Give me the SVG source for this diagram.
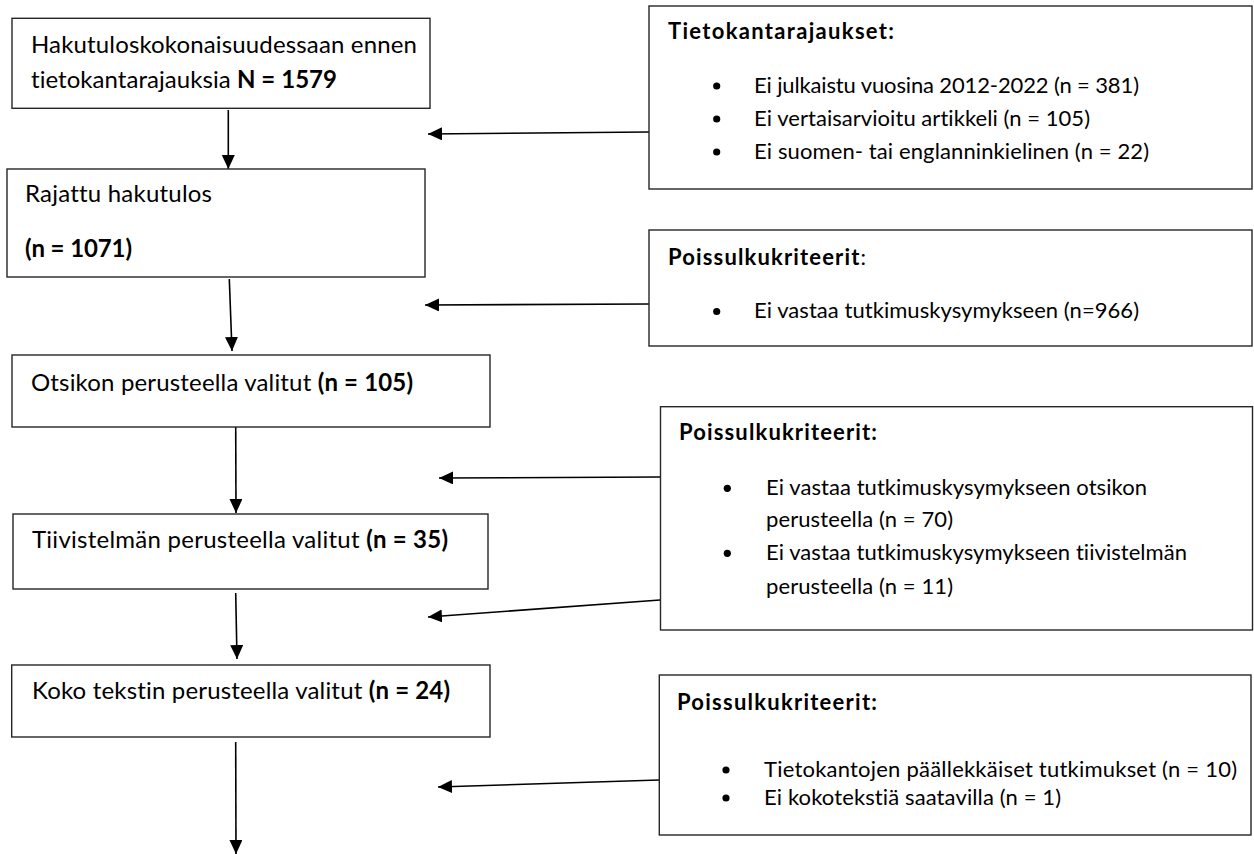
<svg xmlns="http://www.w3.org/2000/svg" width="1254" height="854" viewBox="0 0 1254 854">
<defs>
<style>
.box{fill:#fff;stroke:#262626;stroke-width:1.4}
.t{font-family:Lato,"Liberation Sans",sans-serif;fill:#000;font-variant-ligatures:none;font-feature-settings:"liga" 0,"dlig" 0}
.l{font-size:24px}
.r{font-size:22px}
.b{font-weight:700}
.c{stroke:#000;stroke-width:1.6;fill:none;marker-end:url(#ah)}
.dot{fill:#000}
</style>
<marker id="ah" markerUnits="userSpaceOnUse" markerWidth="15" markerHeight="14" refX="14" refY="6.5" orient="auto">
<path d="M0,0 L14,6.5 L0,13 z" fill="#000"/>
</marker>
</defs>
<rect width="1254" height="854" fill="#fff"/>

<g id="connectors">
<line class="c" x1="228.3" y1="110" x2="228.3" y2="169"/>
<line class="c" x1="229.3" y1="279" x2="232" y2="351"/>
<line class="c" x1="235.7" y1="422" x2="236" y2="513"/>
<line class="c" x1="235.7" y1="593" x2="237" y2="659"/>
<line class="c" x1="235.7" y1="742" x2="236" y2="854"/>
<line class="c" x1="649" y1="132" x2="428" y2="134"/>
<line class="c" x1="649" y1="304" x2="425" y2="305"/>
<line class="c" x1="660" y1="477" x2="439" y2="478"/>
<line class="c" x1="660" y1="600" x2="428" y2="617"/>
<line class="c" x1="659" y1="780" x2="438" y2="787"/>
</g>

<g id="n1">
<rect class="box" x="12" y="18.3" width="418" height="90"/>
<text class="t l" x="31" y="53" textLength="386">Hakutuloskokonaisuudessaan ennen</text>
<text class="t l" x="31" y="88" textLength="306">tietokantarajauksia <tspan class="b">N = 1579</tspan></text>
</g>

<g id="n2">
<rect class="box" x="7" y="169" width="418" height="108"/>
<text class="t l" x="25" y="202" textLength="187">Rajattu hakutulos</text>
<text class="t l b" x="25" y="257" textLength="107">(n = 1071)</text>
</g>

<g id="n3">
<rect class="box" x="12" y="355" width="478" height="72"/>
<text class="t l" x="31" y="391" textLength="382">Otsikon perusteella valitut <tspan class="b">(n = 105)</tspan></text>
</g>

<g id="n4">
<rect class="box" x="13" y="514" width="475" height="75"/>
<text class="t l" x="32" y="548" textLength="416">Tiivistelmän perusteella valitut <tspan class="b">(n = 35)</tspan></text>
</g>

<g id="n5">
<rect class="box" x="11.7" y="665" width="478.3" height="72"/>
<text class="t l" x="32" y="699" textLength="418">Koko tekstin perusteella valitut <tspan class="b">(n = 24)</tspan></text>
</g>

<g id="r1">
<rect class="box" x="649" y="6" width="603" height="183"/>
<text class="t r b" x="668" y="39" textLength="226">Tietokantarajaukset:</text>
<circle class="dot" cx="716.7" cy="86" r="3.6"/>
<circle class="dot" cx="716.7" cy="119" r="3.6"/>
<circle class="dot" cx="716.7" cy="152" r="3.6"/>
<text class="t r" x="754" y="93" textLength="385">Ei julkaistu vuosina 2012-2022 (n = 381)</text>
<text class="t r" x="754" y="126" textLength="336">Ei vertaisarvioitu artikkeli (n = 105)</text>
<text class="t r" x="754" y="158.5" textLength="395">Ei suomen- tai englanninkielinen (n = 22)</text>
</g>

<g id="r2">
<rect class="box" x="649" y="230" width="603" height="116"/>
<text class="t r" x="668" y="265" textLength="198"><tspan class="b">Poissulkukriteerit</tspan>:</text>
<circle class="dot" cx="716.7" cy="311.5" r="3.6"/>
<text class="t r" x="754" y="318" textLength="385">Ei vastaa tutkimuskysymykseen (n=966)</text>
</g>

<g id="r3">
<rect class="box" x="660.5" y="406.7" width="592" height="223.3"/>
<text class="t r b" x="679" y="440" textLength="198">Poissulkukriteerit:</text>
<circle class="dot" cx="727.3" cy="488.3" r="3.6"/>
<circle class="dot" cx="727.3" cy="553.3" r="3.6"/>
<text class="t r" x="766" y="495" textLength="381">Ei vastaa tutkimuskysymykseen otsikon</text>
<text class="t r" x="766" y="527" textLength="187">perusteella (n = 70)</text>
<text class="t r" x="766" y="560" textLength="421">Ei vastaa tutkimuskysymykseen tiivistelmän</text>
<text class="t r" x="766" y="594" textLength="187">perusteella (n = 11)</text>
</g>

<g id="r4">
<rect class="box" x="659.3" y="675" width="591.7" height="160"/>
<text class="t r b" x="677" y="710" textLength="200">Poissulkukriteerit:</text>
<circle class="dot" cx="726" cy="770" r="3.6"/>
<circle class="dot" cx="726" cy="798" r="3.6"/>
<text class="t r" x="764" y="777" textLength="473">Tietokantojen päällekkäiset tutkimukset (n = 10)</text>
<text class="t r" x="764" y="805" textLength="297">Ei kokotekstiä saatavilla (n = 1)</text>
</g>
</svg>
